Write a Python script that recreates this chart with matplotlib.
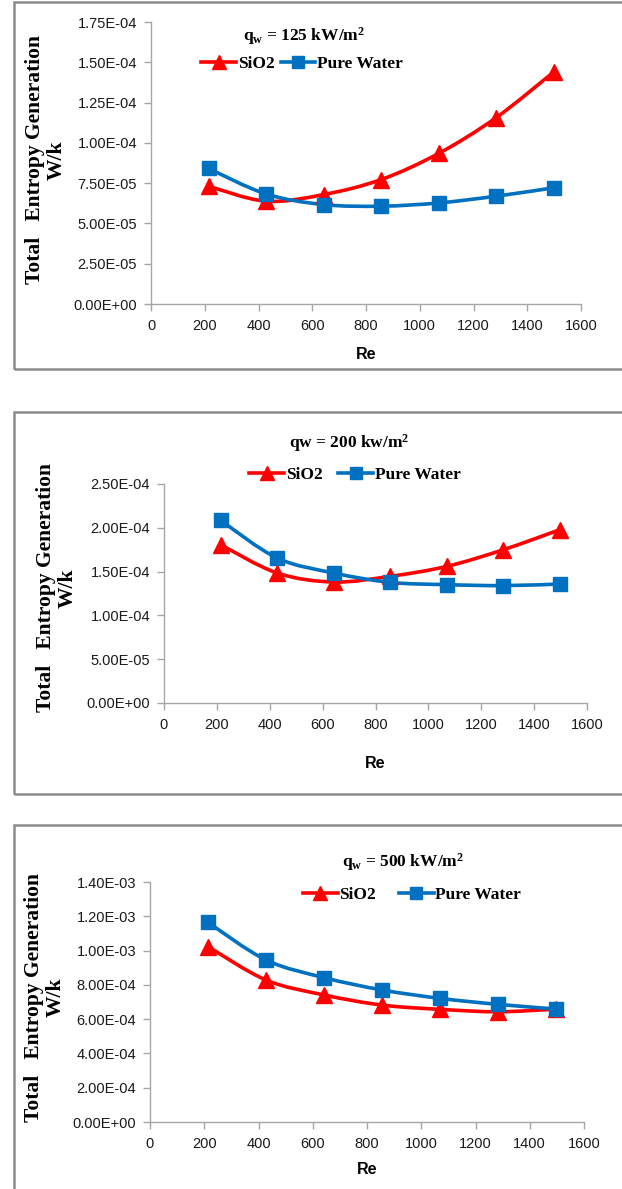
import numpy as np
import matplotlib
matplotlib.use("Agg")
import matplotlib.pyplot as plt
from matplotlib.path import Path
from matplotlib.patches import PathPatch, Rectangle
from matplotlib.lines import Line2D

# Reynolds numbers (same for all three panels)
re_vals = [214, 428, 642, 856, 1070, 1284, 1498]

# qw = 125 kW/m2
sio2_125 = [7.31e-5, 6.38e-5, 6.79e-5, 7.72e-5, 9.34e-5, 1.156e-4, 1.439e-4]
water_125 = [8.41e-5, 6.83e-5, 6.17e-5, 6.07e-5, 6.27e-5, 6.69e-5, 7.21e-5]

# qw = 200 kW/m2
sio2_200 = [1.807e-4, 1.484e-4, 1.381e-4, 1.446e-4, 1.56e-4, 1.75e-4, 1.979e-4]
water_200 = [2.085e-4, 1.655e-4, 1.484e-4, 1.377e-4, 1.351e-4, 1.34e-4, 1.358e-4]

# qw = 500 kW/m2
sio2_500 = [1.023e-3, 8.28e-4, 7.41e-4, 6.82e-4, 6.57e-4, 6.43e-4, 6.59e-4]
water_500 = [1.164e-3, 9.45e-4, 8.42e-4, 7.70e-4, 7.21e-4, 6.86e-4, 6.59e-4]

titles = [r"q$_\mathregular{w}$ = 125 kW/m$^\mathregular{2}$",
          r"qw = 200 kw/m$^\mathregular{2}$",
          r"q$_\mathregular{w}$ = 500 kW/m$^\mathregular{2}$"]
y_ticks = [np.arange(0, 1.76e-4, 2.5e-5),
           np.arange(0, 2.51e-4, 5e-5),
           np.arange(0, 1.41e-3, 2e-4)]
y_fmt = [["%.2E" % v for v in t] for t in y_ticks]
x_ticks = list(range(0, 1601, 200))

RED = "#FF0000"
BLUE = "#0070C0"
W, H = 622, 1189

plt.rcParams['mathtext.fontset'] = 'custom'
plt.rcParams['mathtext.rm'] = 'Liberation Serif:bold'
plt.rcParams['mathtext.default'] = 'rm'

SERIF = "Liberation Serif"
SANS = "Liberation Sans"

fig = plt.figure(figsize=(W / 100, H / 100), dpi=100)


def rect(l, t, r, b):
    return [l / W, 1 - b / H, (r - l) / W, (b - t) / H]


def fx(x):
    return x / W


def fy(y):
    return 1 - y / H


def smooth_path(xs, ys):
    # Excel-style smoothed line: cubic bezier through the points
    p = np.column_stack([xs, ys]).astype(float)
    n = len(p)
    verts = [p[0]]
    codes = [Path.MOVETO]
    for i in range(n - 1):
        p0 = p[i - 1] if i > 0 else p[i]
        p3 = p[i + 2] if i + 2 < n else p[i + 1]
        c1 = p[i] + (p[i + 1] - p0) / 6.0
        c2 = p[i + 1] - (p3 - p[i]) / 6.0
        verts += [c1, c2, p[i + 1]]
        codes += [Path.CURVE4] * 3
    return Path(verts, codes)


# panel layouts in pixels: border, axes box, title/legend/labels
panels = [
    dict(box=(14, 2, 640, 369), ax=(151, 22, 581, 304), title=(304, 36),
         leg=(302, 64), colsp=0.35, ylab=(35, 57, 160), xl=355,
         data=(sio2_125, water_125), ylim=1.75e-4),
    dict(box=(14, 412, 640, 794), ax=(164, 484, 587, 703), title=(349, 443),
         leg=(355, 475), colsp=0.9, ylab=(46, 68, 588), xl=763,
         data=(sio2_200, water_200), ylim=2.5e-4),
    dict(box=(14, 825, 640, 1200), ax=(150, 882, 584, 1122), title=(403, 862),
         leg=(412, 895), colsp=1.3, ylab=(34, 56, 997), xl=1170,
         data=(sio2_500, water_500), ylim=1.4e-3),
]

for k, pn in enumerate(panels):
    bl, bt, br, bb = pn['box']
    fig.patches.append(Rectangle((fx(bl), fy(bb)), (br - bl) / W, (bb - bt) / H,
                                 transform=fig.transFigure, fill=False,
                                 edgecolor="#8C8C8C", linewidth=1.8))
    ax = fig.add_axes(rect(*pn['ax']))
    ax.set_xlim(0, 1600)
    ax.set_ylim(0, pn['ylim'])
    ax.set_xticks(x_ticks)
    ax.set_yticks(y_ticks[k])
    ax.set_yticklabels(y_fmt[k])
    for s in ['top', 'right']:
        ax.spines[s].set_visible(False)
    for s in ['left', 'bottom']:
        ax.spines[s].set_color("#A6A6A6")
        ax.spines[s].set_linewidth(1.0)
    ax.tick_params(axis='both', direction='out', length=5, width=1.0,
                   color="#A6A6A6", labelsize=10.5, labelcolor="#1A1A1A")
    ax.tick_params(axis='x', pad=6)
    ax.tick_params(axis='y', pad=5)
    for lab in ax.get_xticklabels() + ax.get_yticklabels():
        lab.set_family(SANS)

    sio2, water = pn['data']
    for ys, col, mk, ms in [(sio2, RED, '^', 11), (water, BLUE, 's', 10)]:
        ax.add_patch(PathPatch(smooth_path(re_vals, ys), fill=False,
                               edgecolor=col, linewidth=2.6, zorder=3,
                               capstyle='round'))
        ax.plot(re_vals, ys, linestyle='none', marker=mk, markersize=ms,
                color=col, zorder=4, clip_on=False)

    tx, ty = pn['title']
    fig.text(fx(tx), fy(ty), titles[k], ha='center', va='center',
             fontsize=12.5, family=SERIF, weight='bold')

    handles = [Line2D([], [], color=RED, marker='^', markersize=10, linewidth=2.6),
               Line2D([], [], color=BLUE, marker='s', markersize=9, linewidth=2.6)]
    lx, ly = pn['leg']
    fig.legend(handles, ["SiO2", "Pure Water"], loc='center',
               bbox_to_anchor=(fx(lx), fy(ly)), ncol=2, frameon=False,
               handlelength=2.0, handletextpad=0.1, columnspacing=pn['colsp'],
               prop=dict(family=SERIF, weight='bold', size=12.5))

    x1, x2, yc = pn['ylab']
    fig.text(fx(x1), fy(yc), "Total   Entropy Generation", rotation=90,
             ha='center', va='center', fontsize=15.5, family=SERIF, weight='bold')
    fig.text(fx(x2), fy(yc), "W/k", rotation=90, ha='center', va='center',
             fontsize=15.5, family=SERIF, weight='bold')

    al, at, ar, ab = pn['ax']
    fig.text(fx((al + ar) / 2), fy(pn['xl']), "Re", ha='center', va='center',
             fontsize=11.5, family=SANS, weight='bold')

fig.savefig("out.png", dpi=100)
